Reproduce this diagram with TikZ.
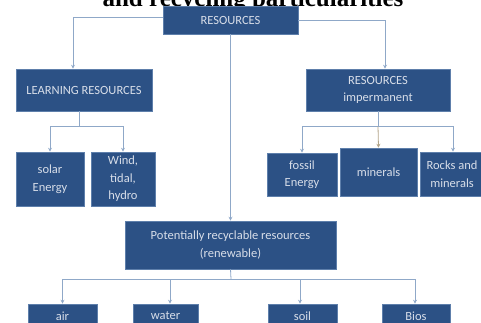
\documentclass[tikz,border=0pt]{standalone}
\usepackage{fontspec}
\setmainfont{Carlito}
\newfontfamily\titlefont{Liberation Serif}
\usetikzlibrary{arrows.meta}
\definecolor{boxblue}{HTML}{2C5185}
\definecolor{boxedge}{HTML}{5E7FAB}
\definecolor{linecol}{HTML}{8FA8C8}
\definecolor{txt}{HTML}{D8DEE9}
\definecolor{tanline}{HTML}{B3A58A}
\begin{document}
\begin{tikzpicture}[x=1pt,y=-1pt,
 box/.style={draw=boxedge, line width=0.6pt, fill=boxblue, text=txt, font=\fontsize{12.5}{17.5}\selectfont, align=center, inner sep=0pt},
 conn/.style={draw=linecol, line width=0.8pt, -{Stealth[length=4pt,width=4pt]}},
 plain/.style={draw=linecol, line width=0.8pt}]
\useasboundingbox (0,0) rectangle (481,322);
\clip (0,0) rectangle (481,322);
\node[anchor=base, font=\titlefont\bfseries\fontsize{25}{28}\selectfont, inner sep=0pt] (title) at (253,6.5) {and recycling particularities};
\node[box, minimum width=135pt, minimum height=28pt] (res) at (230.5,20) {RESOURCES};
\node[box, minimum width=136pt, minimum height=42pt] (learn) at (84,90) {LEARNING RESOURCES};
\node[box, minimum width=144pt, minimum height=42pt] (imp) at (378,90) {RESOURCES\\impermanent};
\node[box, minimum width=68pt, minimum height=54pt] (solar) at (50,179) {solar\\Energy};
\node[box, minimum width=64pt, minimum height=54pt] (wind) at (123,179) {Wind,\\tidal,\\hydro};
\node[box, minimum width=70pt, minimum height=43pt] (fossil) at (302,174.5) {fossil\\Energy};
\node[box, minimum width=77pt, minimum height=48pt] (minerals) at (378.5,172) {minerals};
\node[box, minimum width=64pt, minimum height=44pt] (rocks) at (452,174) {Rocks and\\minerals};
\node[box, minimum width=211pt, minimum height=48pt] (pot) at (230.5,245) {Potentially recyclable resources\\(renewable)};
\node[box, minimum width=69pt, minimum height=24pt] (air) at (62.5,316) {air};
\node[box, minimum width=65pt, minimum height=24pt] (water) at (165.5,316) {water};
\node[box, minimum width=69pt, minimum height=24pt] (soil) at (302.5,316) {soil};
\node[box, minimum width=68pt, minimum height=24pt] (bios) at (416,316) {Bios};
\coordinate (lj) at (79,126);
\coordinate (ij) at (378,126);
\coordinate (pj) at (231,279);
\draw[conn] ([yshift=3pt]res.west) -| ([xshift=-11pt]learn.north);
\draw[conn] (res.east) -| ([xshift=7pt]imp.north);
\draw[conn] (res.south) -- (pot.north);
\draw[plain] ([xshift=-5pt]learn.south) -- (lj);
\draw[conn] (lj) -| (solar.north);
\draw[conn] (lj) -| (wind.north);
\draw[plain] (imp.south) -- (ij);
\draw[conn] (ij) -| (fossil.north);
\draw[conn, draw=tanline] (ij) -- (minerals.north);
\draw[conn] (ij) -| ([xshift=1pt]rocks.north);
\draw[plain] (pot.south) -- (pj);
\draw[conn] (pj) -| (air.north);
\draw[conn] (pj) -| ([xshift=4.5pt]water.north);
\draw[conn] (pj) -| ([xshift=-2.5pt]soil.north);
\draw[conn] (pj) -| ([xshift=-1pt]bios.north);
\end{tikzpicture}
\end{document}
